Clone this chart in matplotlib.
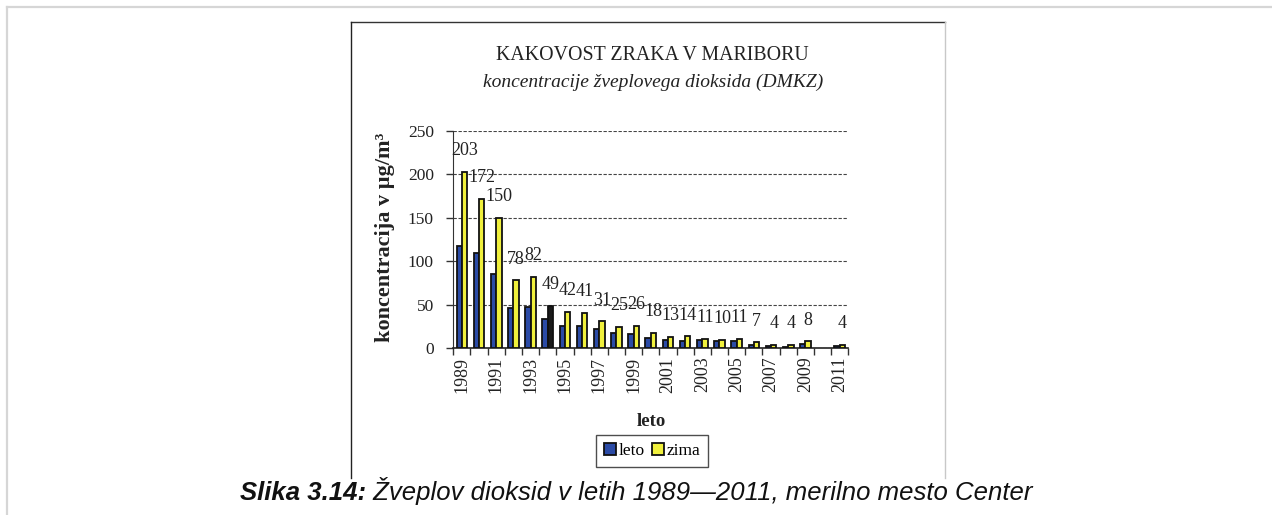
import numpy as np
import matplotlib
matplotlib.use("Agg")
import matplotlib.pyplot as plt
from matplotlib.patches import Patch
from matplotlib.lines import Line2D

years = list(range(1989, 2012))
leto = [118, 110, 85, 46, 48, 34, 26, 26, 22, 18, 17, 12, 9, 8, 9, 8, 8, 4, 3, 2, 5, np.nan, 3]
zima = [203, 172, 150, 78, 82, 49, 42, 41, 31, 25, 26, 18, 13, 14, 11, 10, 11, 7, 4, 4, 8, np.nan, 4]
tick_years = [str(y) if y % 2 == 1 else "" for y in years]

title = "KAKOVOST ZRAKA V MARIBORU"
subtitle = "koncentracije žveplovega dioksida (DMKZ)"
ylabel = "koncentracija v µg/m³"
xlabel = "leto"
series_names = ["leto", "zima"]
caption_bold = "Slika 3.14:"
caption_rest = " Žveplov dioksid v letih 1989—2011, merilno mesto Center"

BLUE = "#2b4ba6"
YELLOW = "#f0f03c"
SERIF = ["Liberation Serif", "DejaVu Serif"]
SANS = ["Liberation Sans", "DejaVu Sans"]

W, H = 1272, 515
fig = plt.figure(figsize=(W / 100, H / 100), dpi=100)

# page frame and chart box
def px_line(x0, y0, x1, y1, color, lw):
    fig.add_artist(Line2D([x0 / W, x1 / W], [1 - y0 / H, 1 - y1 / H],
                          color=color, lw=lw, transform=fig.transFigure))

px_line(7, 7, W, 7, "#d6d6d6", 1.6)
px_line(7, 7, 7, H, "#d6d6d6", 1.6)
px_line(351, 22, 945, 22, "#333333", 1.0)
px_line(351, 22, 351, 478, "#222222", 1.0)
px_line(945, 22, 945, 478, "#c8c8c8", 1.0)

ax = fig.add_axes([453.3 / W, 1 - 348.3 / H, (848.3 - 453.3) / W, (348.3 - 130.7) / H])

x = np.arange(len(years))
bw = 0.31
zcolors = [YELLOW] * len(years)
zcolors[years.index(1994)] = "#1a1a1a"
ax.bar(x - bw / 2, leto, bw, color=BLUE, edgecolor="#111111", linewidth=1.3, zorder=3)
ax.bar(x + bw / 2, zima, bw, color=zcolors, edgecolor="#111111", linewidth=1.3, zorder=3)

for xi, v in zip(x, zima):
    if not np.isnan(v):
        ax.annotate(f"{int(v)}", (xi + bw / 2, v), xytext=(0, 9), textcoords="offset points",
                    ha="center", va="bottom", fontsize=13, family=SERIF, color="#222222")

ax.set_xlim(-0.5, len(years) - 0.5)
ax.set_ylim(0, 250)
ax.set_yticks([0, 50, 100, 150, 200, 250])
ax.yaxis.grid(True, linestyle=(0, (3, 1.5)), color="#444444", linewidth=0.8, zorder=0)
ax.set_xticks(x)
ax.set_xticklabels(tick_years, rotation=90, family=SERIF, fontsize=13, color="#222222")
ax.set_xticks(np.arange(len(years) + 1) - 0.5, minor=True)
ax.tick_params(axis="x", which="major", length=0, pad=6)
ax.tick_params(axis="x", which="minor", length=5, width=1, color="#333333")
ax.tick_params(axis="y", length=5, width=1, color="#333333", pad=9)
for lab in ax.get_yticklabels():
    lab.set_family(SERIF)
    lab.set_fontsize(12.5)
    lab.set_color("#222222")
for s in ["top", "right"]:
    ax.spines[s].set_visible(False)
ax.spines["left"].set_color("#333333")
ax.spines["bottom"].set_color("#222222")
ax.spines["bottom"].set_linewidth(1.2)

# texts
fig.text(652 / W, 1 - 56 / H, title, ha="center", va="center", fontsize=14.3, family=SERIF, color="#222222")
fig.text(653 / W, 1 - 82 / H, subtitle, ha="center", va="center", fontsize=14, family=SERIF,
         style="italic", color="#222222")
fig.text(385 / W, 1 - 237 / H, ylabel, ha="center", va="center", rotation=90, fontsize=16,
         family=SERIF, weight="bold", color="#222222")
fig.text(651 / W, 1 - 422 / H, xlabel, ha="center", va="center", fontsize=13.5, family=SERIF,
         weight="bold", color="#222222")

handles = [Patch(facecolor=BLUE, edgecolor="#111111", linewidth=1.3),
           Patch(facecolor=YELLOW, edgecolor="#111111", linewidth=1.3)]
leg = fig.legend(handles, series_names, loc="center", bbox_to_anchor=(652 / W, 1 - 451 / H),
                 ncol=2, frameon=True, fancybox=False, edgecolor="#222222",
                 prop={"family": SERIF, "size": 12.5}, handlelength=0.7, handleheight=0.7,
                 handletextpad=0.15, columnspacing=0.4, borderpad=0.45, borderaxespad=0)
leg.get_frame().set_linewidth(1.0)

# caption with mixed styles
fig.canvas.draw()
r = fig.canvas.get_renderer()
t1 = fig.text(0, 1 - 500 / H, caption_bold, ha="left", va="baseline", fontsize=18.5, family=SANS,
              style="italic", weight="bold", color="#111111")
t2 = fig.text(0, 1 - 500 / H, caption_rest, ha="left", va="baseline", fontsize=18.5, family=SANS,
              style="italic", color="#111111")
w1 = t1.get_window_extent(r).width
w2 = t2.get_window_extent(r).width
start = 636 - (w1 + w2) / 2
t1.set_x(start / W)
t2.set_x((start + w1) / W)

fig.savefig("out.png", dpi=100)
